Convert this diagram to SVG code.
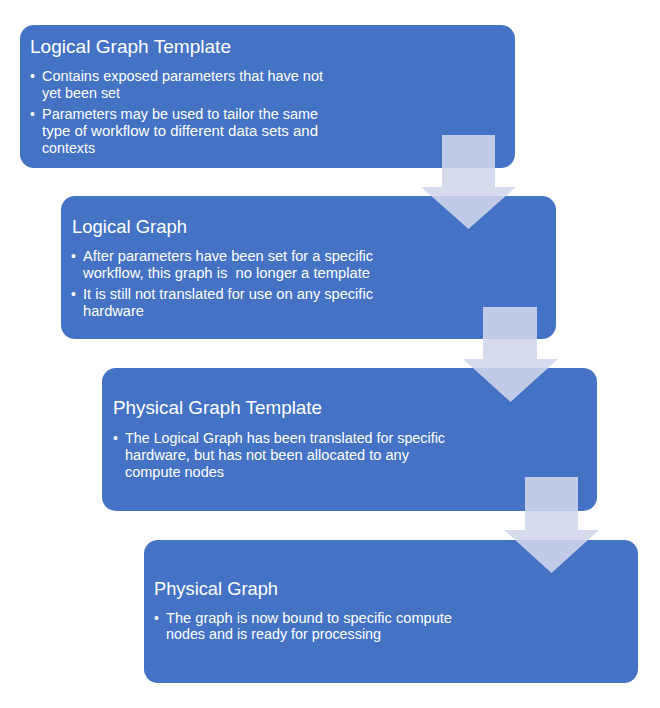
<svg xmlns="http://www.w3.org/2000/svg" width="660" height="708" viewBox="0 0 660 708">
<style>
.box{fill:#4472C4}
.t{font-family:"Liberation Sans",Arial,sans-serif;fill:#FFFFFF}
.title{font-size:19px}
.b{font-size:14px}
.arrow{fill:#D1D6EC;fill-opacity:0.89}
</style>
<rect width="660" height="708" fill="#FFFFFF"/>
<g id="node1">
<rect class="box" x="20" y="25" width="495" height="143" rx="14"/>
<text class="t title" x="30" y="53" textLength="201" lengthAdjust="spacingAndGlyphs">Logical Graph Template</text>
<text class="t b" x="30" y="81">•</text>
<text class="t b" x="42" y="81" textLength="281" lengthAdjust="spacingAndGlyphs">Contains exposed parameters that have not</text>
<text class="t b" x="42" y="97.5" textLength="78" lengthAdjust="spacingAndGlyphs">yet been set</text>
<text class="t b" x="30" y="119">•</text>
<text class="t b" x="42" y="119" textLength="276" lengthAdjust="spacingAndGlyphs">Parameters may be used to tailor the same</text>
<text class="t b" x="42" y="136" textLength="276" lengthAdjust="spacingAndGlyphs">type of workflow to different data sets and</text>
<text class="t b" x="42" y="153" textLength="53" lengthAdjust="spacingAndGlyphs">contexts</text>
</g>
<g id="node2">
<rect class="box" x="61" y="196" width="495" height="143" rx="14"/>
<text class="t title" x="72" y="232.5" textLength="115" lengthAdjust="spacingAndGlyphs">Logical Graph</text>
<text class="t b" x="71" y="261">•</text>
<text class="t b" x="83" y="261" textLength="290" lengthAdjust="spacingAndGlyphs">After parameters have been set for a specific</text>
<text class="t b" x="83" y="277.5" textLength="287" lengthAdjust="spacingAndGlyphs" xml:space="preserve">workflow, this graph is  no longer a template</text>
<text class="t b" x="71" y="299">•</text>
<text class="t b" x="83" y="299" textLength="290" lengthAdjust="spacingAndGlyphs">It is still not translated for use on any specific</text>
<text class="t b" x="83" y="316" textLength="61" lengthAdjust="spacingAndGlyphs">hardware</text>
</g>
<g id="node3">
<rect class="box" x="102" y="368" width="495" height="143" rx="14"/>
<text class="t title" x="113" y="414" textLength="209" lengthAdjust="spacingAndGlyphs">Physical Graph Template</text>
<text class="t b" x="113" y="443">•</text>
<text class="t b" x="125" y="443" textLength="320" lengthAdjust="spacingAndGlyphs">The Logical Graph has been translated for specific</text>
<text class="t b" x="125" y="460" textLength="284" lengthAdjust="spacingAndGlyphs">hardware, but has not been allocated to any</text>
<text class="t b" x="125" y="477" textLength="99" lengthAdjust="spacingAndGlyphs">compute nodes</text>
</g>
<g id="node4">
<rect class="box" x="144" y="540" width="494" height="143" rx="14"/>
<text class="t title" x="154" y="595" textLength="124" lengthAdjust="spacingAndGlyphs">Physical Graph</text>
<text class="t b" x="154" y="622.5">•</text>
<text class="t b" x="166" y="622.5" textLength="286" lengthAdjust="spacingAndGlyphs">The graph is now bound to specific compute</text>
<text class="t b" x="166" y="639" textLength="215" lengthAdjust="spacingAndGlyphs">nodes and is ready for processing</text>
</g>
<g id="connectors">
<path class="arrow" d="M442,135 H495 V187 H516 L468.5,229 L421,187 H442 Z"/>
<path class="arrow" d="M483,307 H537 V359 H558 L510.5,402 L463,359 H483 Z"/>
<path class="arrow" d="M525,477 H578 V530 H599 L551.5,573 L504,530 H525 Z"/>
</g>
</svg>
